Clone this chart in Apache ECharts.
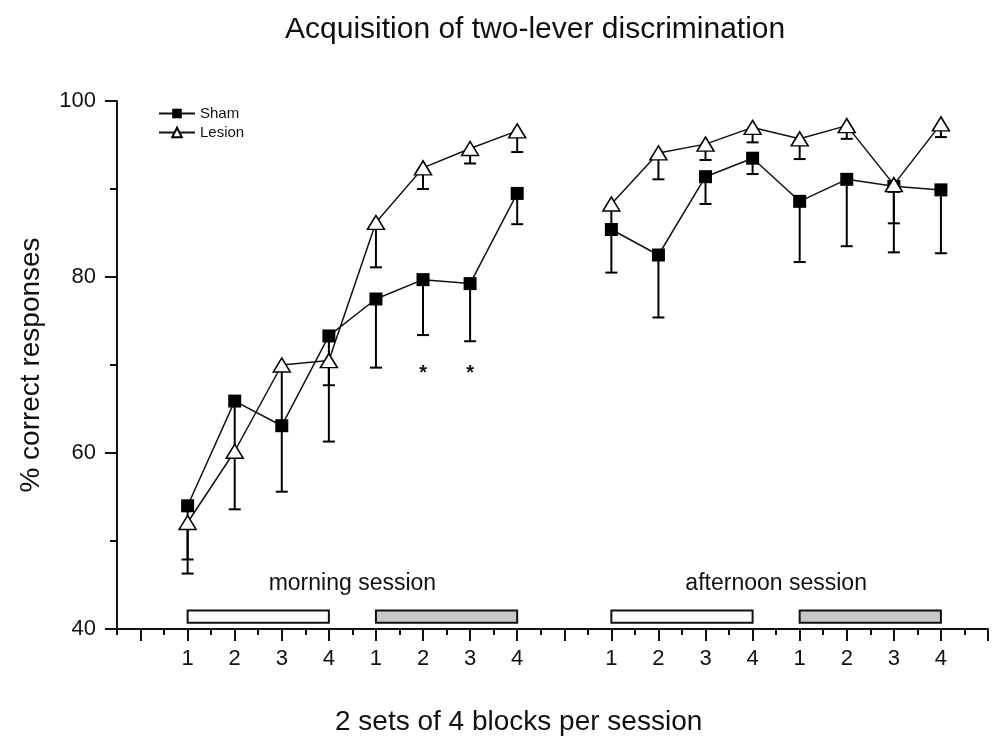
<!DOCTYPE html>
<html>
<head>
<meta charset="utf-8">
<script src="https://cdn.jsdelivr.net/npm/echarts@6/dist/echarts.min.js"></script>
<style>html,body{margin:0;padding:0;background:#fff;}#c{width:997px;height:739px;}</style>
</head>
<body>
<div id="c"></div>
<script>
// ---- data ----
const xPositions = [1,2,3,4,5,6,7,8,10,11,12,13,14,15,16,17];
const xTickLabels = ['1','2','3','4','1','2','3','4','1','2','3','4','1','2','3','4'];
const shamValues = [54.0,65.9,63.1,73.3,77.5,79.7,79.25,89.5,85.4,82.5,91.4,93.5,88.6,91.1,90.3,89.9];
const shamLower  = [47.9,53.6,55.6,61.3,69.7,73.4,72.7,86.0,80.5,75.4,88.3,91.7,81.7,83.5,82.8,82.7];
const lesionValues = [52.1,60.2,70.0,70.5,86.2,92.4,94.6,96.6,88.3,94.1,95.1,97.0,95.7,97.2,90.5,97.4];
const lesionLower  = [46.3,59.6,63.5,67.7,81.1,90.0,92.9,94.2,85.6,91.1,93.3,95.3,93.4,95.7,86.1,95.9];
const yTicks = [40,60,80,100];
const sessionBoxStart = [1,5,10,14];
const sessionBoxEnd   = [4,8,13,17];
const sessionBoxFill  = ['#ffffff','#c8c8c8','#ffffff','#c8c8c8'];
const sessionNames = ['morning session','afternoon session'];
const sessionNameX = [4.5,13.5];
const sessionNameY = [45.1,45.1];
const asteriskX = [6,7];
const asteriskY = [69.6,69.6];
const gapPosition = 9;

// ---- build ----
function lineData(vals){
  const out=[];
  xPositions.forEach((x,i)=>{
    if (i>0 && x-xPositions[i-1]>1) out.push([gapPosition,'-']);
    out.push([x,vals[i]]);
  });
  return out;
}
function errData(vals,low){ return xPositions.map((x,i)=>[x,vals[i],low[i]]); }

const majorTicks=[]; for(let v=0; v<=18; v++) majorTicks.push(v);
const minorTicks=[]; for(let v=-0.5; v<18; v+=1) minorTicks.push(v);

const FONT='Liberation Sans, Arial, sans-serif';

function errRender(params, api){
  const x=api.value(0), y=api.value(1), lo=api.value(2);
  const p1=api.coord([x,y]), p2=api.coord([x,lo]);
  return {type:'group',children:[
    {type:'line',shape:{x1:p1[0],y1:p1[1],x2:p2[0],y2:p2[1]},style:{stroke:'#000',lineWidth:2}},
    {type:'line',shape:{x1:p2[0]-6,y1:p2[1],x2:p2[0]+6,y2:p2[1]},style:{stroke:'#000',lineWidth:2}}
  ]};
}
function boxRender(params, api){
  const p1=api.coord([api.value(0),42.1]), p2=api.coord([api.value(1),40.7]);
  return {type:'rect',shape:{x:p1[0],y:p1[1],width:p2[0]-p1[0],height:p2[1]-p1[1]},
    style:{fill:sessionBoxFill[params.dataIndex],stroke:'#111',lineWidth:2}};
}
function textRender(params, api){
  const p=api.coord([api.value(0),api.value(1)]);
  return {type:'text',x:p[0],y:p[1],
    style:{text:params.context.texts[params.dataIndex],fill:'#111',fontSize:params.context.size,
      fontFamily:FONT,fontWeight:params.context.weight,align:'center',verticalAlign:'middle'}};
}

const chart=echarts.init(document.getElementById('c'),null,{renderer:'canvas'});
chart.setOption({
  animation:false,
  backgroundColor:'#fff',
  title:[
    {text:'Acquisition of two-lever discrimination',left:280,top:10,
     textStyle:{fontSize:30,fontWeight:'normal',color:'#111',fontFamily:FONT}},
    {text:'2 sets of 4 blocks per session',left:330,top:703,
     textStyle:{fontSize:28,fontWeight:'normal',color:'#111',fontFamily:FONT}}
  ],
  legend:{
    data:['Sham','Lesion'],orient:'vertical',left:153,top:101,
    itemWidth:36,itemHeight:12,itemGap:4,itemTextGap:4,
    textStyle:{fontSize:15,color:'#111',fontFamily:FONT}
  },
  grid:{left:117,right:9,top:101,bottom:110,containLabel:false},
  xAxis:[
    {type:'value',min:-0.5,max:18,
     axisLine:{onZero:false,lineStyle:{color:'#111',width:2}},
     axisTick:{show:true,length:12,lineStyle:{width:2,color:'#111'},customValues:majorTicks},
     axisLabel:{show:true,margin:19,fontSize:22,color:'#111',fontFamily:FONT,
       customValues:xPositions,
       formatter:function(v){const i=xPositions.indexOf(v);return i>=0?xTickLabels[i]:'';}},
     splitLine:{show:false}},
    {type:'value',min:-0.5,max:18,position:'bottom',
     axisLine:{show:false,onZero:false},
     axisTick:{show:true,length:6,lineStyle:{width:2,color:'#111'},customValues:minorTicks},
     axisLabel:{show:false},splitLine:{show:false}}
  ],
  yAxis:{type:'value',min:40,max:100,interval:20,
    name:'% correct responses',nameLocation:'middle',nameGap:72,
    nameTextStyle:{fontSize:28,color:'#111',fontFamily:FONT},
    axisLine:{show:true,onZero:false,lineStyle:{color:'#111',width:2}},
    axisTick:{show:true,length:12,lineStyle:{width:2,color:'#111'}},
    minorTick:{show:true,splitNumber:2,length:7,lineStyle:{width:2,color:'#111'}},
    axisLabel:{margin:21,fontSize:22,color:'#111',fontFamily:FONT,
      formatter:function(v){return yTicks.indexOf(v)>=0?String(v):'';}},
    splitLine:{show:false}},
  series:[
    {type:'custom',name:'boxes',renderItem:boxRender,
     data:sessionBoxStart.map((s,i)=>[s,sessionBoxEnd[i]]),encode:{x:[0,1]},z:1,silent:true},
    {type:'custom',name:'shamErr',renderItem:errRender,data:errData(shamValues,shamLower),
     encode:{x:0,y:[1,2]},z:2,silent:true},
    {type:'custom',name:'lesionErr',renderItem:errRender,data:errData(lesionValues,lesionLower),
     encode:{x:0,y:[1,2]},z:2,silent:true},
    {type:'line',name:'Sham',data:lineData(shamValues),connectNulls:false,
     symbol:'rect',symbolSize:13,showAllSymbol:true,
     itemStyle:{color:'#000',borderColor:'#000',borderWidth:0},
     lineStyle:{color:'#111',width:1.5},z:4},
    {type:'line',name:'Lesion',data:lineData(lesionValues),connectNulls:false,
     symbol:'triangle',symbolSize:[17,14],showAllSymbol:true,
     itemStyle:{color:'#fff',borderColor:'#000',borderWidth:1.5},
     lineStyle:{color:'#111',width:1.5},z:5},
    {type:'custom',name:'sessionNames',silent:true,z:3,
     renderItem:function(p,api){p.context.texts=sessionNames;p.context.size=23;p.context.weight='normal';return textRender(p,api);},
     data:sessionNames.map((n,i)=>[sessionNameX[i],sessionNameY[i]]),encode:{x:0,y:1}},
    {type:'custom',name:'asterisks',silent:true,z:3,
     renderItem:function(p,api){p.context.texts=asteriskX.map(()=> '*');p.context.size=20;p.context.weight='bold';
       const el=textRender(p,api); el.y+=5; return el;},
     data:asteriskX.map((x,i)=>[x,asteriskY[i]]),encode:{x:0,y:1}}
  ]
});
</script>
</body>
</html>
